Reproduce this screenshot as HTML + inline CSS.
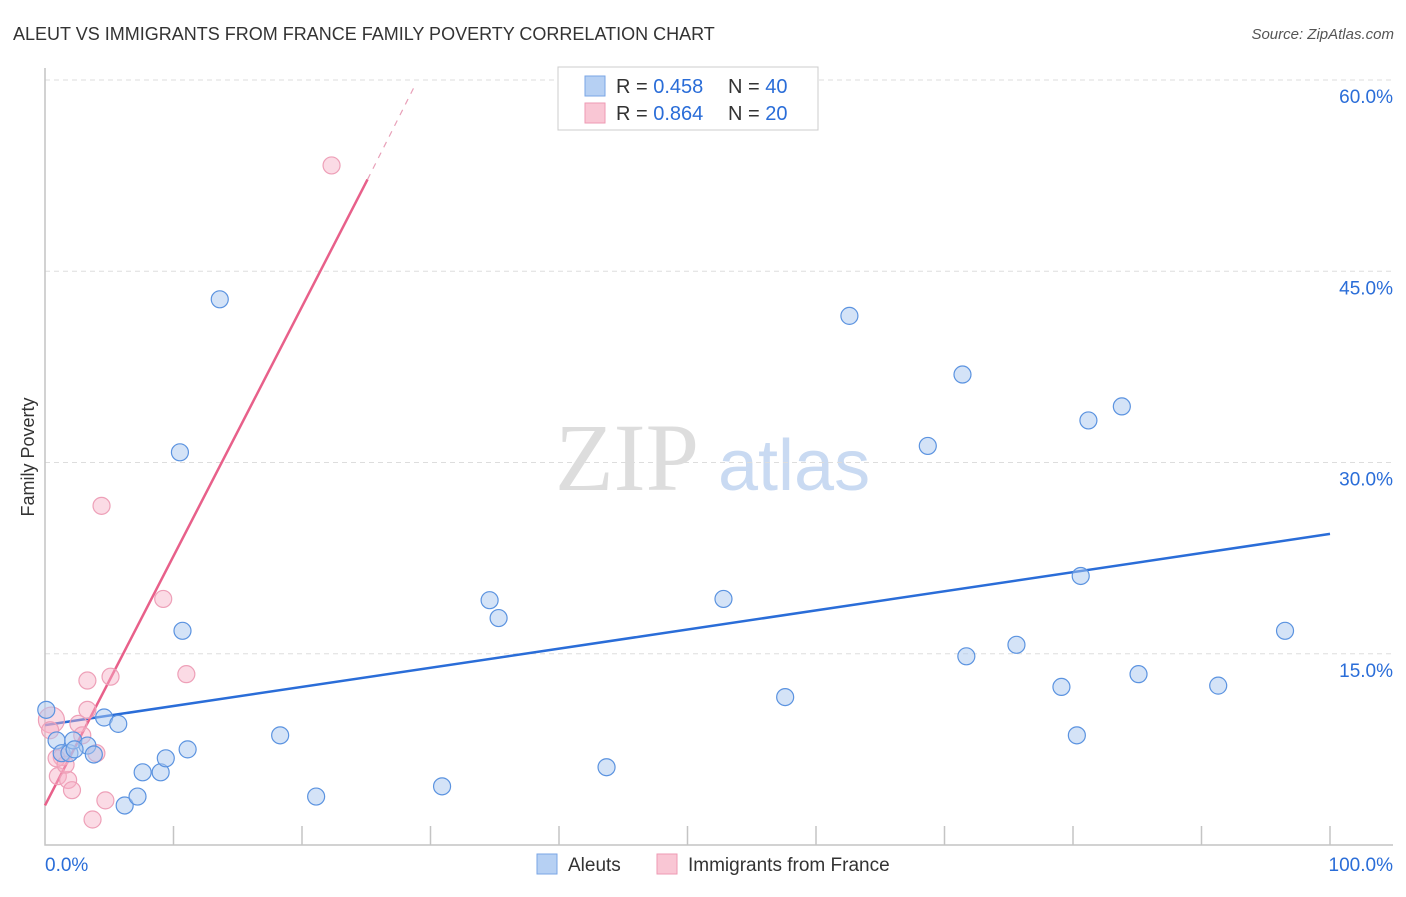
<!DOCTYPE html>
<html><head><meta charset="utf-8"><style>
body{margin:0;background:#fff;font-family:"Liberation Sans",sans-serif;}
</style></head><body>
<svg id="chart" width="1406" height="892" xmlns="http://www.w3.org/2000/svg" font-family="Liberation Sans, sans-serif">
<text x="13" y="40" font-size="18" fill="#333">ALEUT VS IMMIGRANTS FROM FRANCE FAMILY POVERTY CORRELATION CHART</text>
<text x="1394" y="39" font-size="15" font-style="italic" fill="#555" text-anchor="end">Source: ZipAtlas.com</text>
<text transform="translate(34,457) rotate(-90)" font-size="18" fill="#333" text-anchor="middle">Family Poverty</text>
<text x="555" y="490" font-size="96" font-family="Liberation Serif, serif" fill="#ddd">ZIP</text>
<text x="718" y="490" font-size="72" fill="#c9daf2">atlas</text>
<g id="grid"></g><g id="axes"></g><g id="lines"></g><g id="pts"></g>
<g>
<rect x="558" y="67" width="260" height="63" fill="#fff" stroke="#ccc"/>
<rect x="585" y="76" width="20" height="20" fill="#b6d0f3" stroke="#7aa6e6"/>
<text x="616" y="93" font-size="20" fill="#333">R = <tspan fill="#2a6dd8">0.458</tspan></text>
<text x="728" y="93" font-size="20" fill="#333">N = <tspan fill="#2a6dd8">40</tspan></text>
<rect x="585" y="103" width="20" height="20" fill="#f9c6d4" stroke="#ee9ab3"/>
<text x="616" y="120" font-size="20" fill="#333">R = <tspan fill="#2a6dd8">0.864</tspan></text>
<text x="728" y="120" font-size="20" fill="#333">N = <tspan fill="#2a6dd8">20</tspan></text>
</g>
<g>
<rect x="537" y="854" width="20" height="20" fill="#b6d0f3" stroke="#7aa6e6"/>
<text x="568" y="871" font-size="19" fill="#333">Aleuts</text>
<rect x="657" y="854" width="20" height="20" fill="#f9c6d4" stroke="#ee9ab3"/>
<text x="688" y="871" font-size="19" fill="#333">Immigrants from France</text>
</g>
</svg>
<script>
const yTicks=[15,30,45,60];
const xTickCount=10;
const blueX=[0.1,0.9,1.3,1.9,2.2,3.3,3.8,4.6,5.7,6.2,7.2,7.6,9.0,9.4,11.1,10.7,10.5,13.6,18.3,21.1,30.9,34.6,35.3,43.7,52.8,57.6,62.6,68.7,71.4,71.7,75.6,79.1,80.3,80.6,81.2,83.8,85.1,91.3,96.5,2.3];
const blueY=[10.6,8.2,7.2,7.2,8.2,7.8,7.1,10.0,9.5,3.1,3.8,5.7,5.7,6.8,7.5,16.8,30.8,42.8,8.6,3.8,4.6,19.2,17.8,6.1,19.3,11.6,41.5,31.3,36.9,14.8,15.7,12.4,8.6,21.1,33.3,34.4,13.4,12.5,16.8,7.5];
const pinkX=[22.3,4.4,9.2,11.0,5.1,3.3,3.3,2.6,2.9,0.5,4.0,1.3,0.9,1.0,1.8,2.1,4.7,3.7,1.6,0.4];
const pinkY=[53.3,26.6,19.3,13.4,13.2,12.9,10.6,9.5,8.6,9.8,7.2,6.9,6.8,5.4,5.1,4.3,3.5,2.0,6.3,9.0];
const blueLine=[[0,9.4],[100,24.4]];
const pinkLine=[[0,3.1],[25.1,52.2]];
const pinkDash=[[25.1,52.2],[28.8,59.6]];
const NS="http://www.w3.org/2000/svg";
const sx=v=>45+v*12.85, sy=v=>845-v*12.75;
function mk(p,tag,a){const e=document.createElementNS(NS,tag);for(const k in a)e.setAttribute(k,a[k]);document.getElementById(p).appendChild(e);return e;}
yTicks.forEach(t=>{
 const l=mk('grid','line',{x1:45,x2:1393,y1:sy(t),y2:sy(t),stroke:'#ddd','stroke-dasharray':'5,4'});
 
 
 const tx=mk('grid','text',{x:1393,y:sy(t)+23,'font-size':19,fill:'#2a6dd8','text-anchor':'end'});
 tx.textContent=t.toFixed(1)+'%';
 
 
});
const ax=mk('axes','path',{d:'M45,68V845H1393',fill:'none',stroke:'#c4c4c4','stroke-width':1.5});


for(let i=1;i<=xTickCount;i++){const t=mk('axes','line',{x1:sx(i*10),x2:sx(i*10),y1:826,y2:845,stroke:'#c4c4c4','stroke-width':1.5});
 
 }
[[0,'0.0%','start',45],[100,'100.0%','end',1393]].forEach(d=>{const t=mk('axes','text',{x:d[3],y:871,'font-size':19,fill:'#2a6dd8','text-anchor':d[2]});t.textContent=d[1];
 
 });
function ln(p,c,w,dash,name){const e=mk('lines','line',{x1:sx(p[0][0]),y1:sy(p[0][1]),x2:sx(p[1][0]),y2:sy(p[1][1]),stroke:c,'stroke-width':w});if(dash)e.setAttribute('stroke-dasharray',dash);
 
 }
ln(blueLine,'#2a6dd8',2.5,null,'aleut-trendline');
ln(pinkLine,'#e8608a',2.5,null,'france-trendline');
ln(pinkDash,'#e8a0b8',1.2,'6,6','france-trendline-extension');
pinkX.forEach((x,i)=>{const c=mk('pts','circle',{cx:sx(x),cy:sy(pinkY[i]),r:i==9?13:8.5,fill:'rgba(246,176,198,0.45)',stroke:'#eea0b8','stroke-width':1.2});
 
 });
blueX.forEach((x,i)=>{const c=mk('pts','circle',{cx:sx(x),cy:sy(blueY[i]),r:8.5,fill:'rgba(170,200,240,0.5)',stroke:'#5b93e0','stroke-width':1.2});
 
 });
</script>
</body></html>
